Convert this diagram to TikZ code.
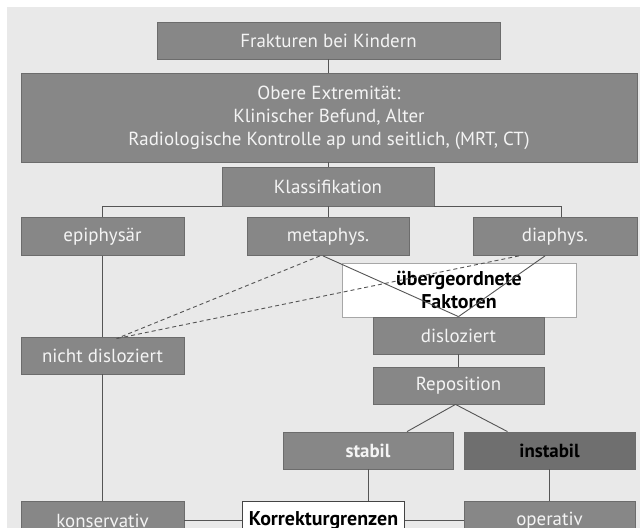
\documentclass[tikz,border=0pt]{standalone}
\usepackage{fontspec}
\setmainfont{PT Sans}
\definecolor{bg}{HTML}{E9E9E9}
\definecolor{boxg}{HTML}{878787}
\definecolor{boxd}{HTML}{6F6F6F}
\definecolor{edge}{HTML}{6C6C6C}
\definecolor{lin}{HTML}{555555}
\definecolor{txt}{HTML}{F4F4F4}
\tikzset{
  gbox/.style={draw=edge, line width=0.8bp, fill=boxg, text=txt, inner sep=0pt, align=center, font=\fontsize{19}{23}\selectfont},
  gboxb/.style={gbox, font=\fontsize{19}{23}\selectfont\bfseries},
  dbox/.style={gbox, fill=boxd, text=black, font=\fontsize{19}{23}\selectfont\bfseries},
  wbox/.style={draw=edge!60, line width=0.8bp, fill=white, text=black, inner sep=0pt, align=center, font=\fontsize{20}{24}\selectfont\bfseries},
  kbox/.style={draw=lin!80!black, line width=1.8bp, fill=white, text=black, inner sep=0pt, align=center, font=\fontsize{20}{24}\selectfont\bfseries},
  conn/.style={draw=lin, line width=0.9bp},
  dconn/.style={conn, dash pattern=on 4bp off 3bp},
}
\begin{document}
\begin{tikzpicture}[x=1bp,y=-1bp]
\useasboundingbox (0,0) rectangle (640,528);
\clip (0,0) rectangle (640,528);
\fill[bg] (7,7) rectangle (640,540);
\node[gbox, minimum width=343bp, minimum height=37bp] (fr) at (328.5,40.5) {Frakturen bei Kindern};
\node[gbox, minimum width=616bp, minimum height=89bp] (ob) at (329,117.5) {Obere Extremität:\\Klinischer Befund, Alter\\Radiologische Kontrolle ap und seitlich, (MRT, CT)};
\node[gbox, minimum width=212bp, minimum height=39bp] (kl) at (328,186.5) {Klassifikation};
\node[gbox, minimum width=163bp, minimum height=38bp] (ep) at (102.5,236.5) {epiphysär};
\node[gbox, minimum width=162bp, minimum height=38bp] (me) at (328,236.5) {metaphys.};
\node[gbox, minimum width=164bp, minimum height=38bp] (di) at (555,236.5) {diaphys.};
\node[wbox, minimum width=234bp, minimum height=54bp] (ub) at (459,290) {übergeordnete\\Faktoren};
\node[gbox, minimum width=171bp, minimum height=37bp] (dis) at (458.5,335.5) {disloziert};
\node[gbox, minimum width=163bp, minimum height=37bp] (nd) at (102.5,355.5) {nicht disloziert};
\node[gbox, minimum width=171bp, minimum height=37bp] (rep) at (458.5,385.5) {Reposition};
\node[gboxb, minimum width=170bp, minimum height=37bp] (st) at (368,450.5) {stabil};
\node[dbox, minimum width=171bp, minimum height=37bp] (in) at (549.5,450.5) {instabil};
\node[gbox, minimum width=163bp, minimum height=38bp] (ko) at (102.5,520.5) {konservativ};
\node[kbox, minimum width=162bp, minimum height=38bp] (kg) at (323.5,520.5) {Korrekturgrenzen};
\node[gbox, minimum width=171bp, minimum height=38bp] (op) at (549.5,520.5) {operativ};
% connectors
\draw[conn] (fr.south) -- (fr.south |- ob.north);
\draw[conn] (ob.south -| kl.north) -- (kl.north);
\draw[conn] (ep.north) |- (kl.south west);
\draw[conn] ([xshift=6bp]di.north) |- (kl.south east);
\draw[conn] (kl.south -| me.north) -- (me.north);
\draw[conn] (ep.south) -- (nd.north);
\draw[conn] (nd.south) -- (ko.north);
\draw[conn] ([xshift=-5bp]me.south) -- (dis.north);
\draw[conn] ([xshift=-10bp]di.south) -- (dis.north);
\draw[dconn] ([xshift=-8bp]me.south) -- ([xshift=14bp,yshift=-2bp]nd.north);
\draw[dconn] ([xshift=-36bp]di.south) -- ([xshift=14bp,yshift=-2bp]nd.north);
\draw[conn] (dis.south) -- (rep.north);
\draw[conn] ([xshift=-3bp]rep.south) -- ([xshift=39bp]st.north);
\draw[conn] ([xshift=-3bp]rep.south) -- ([xshift=-42bp]in.north);
\draw[conn] (st.south) -- (st.south |- kg.north);
\draw[conn] (in.south) -- (op.north);
\draw[conn] (ko.east) -- (kg.west);
\draw[conn] (kg.east) -- (op.west);
\end{tikzpicture}
\end{document}
